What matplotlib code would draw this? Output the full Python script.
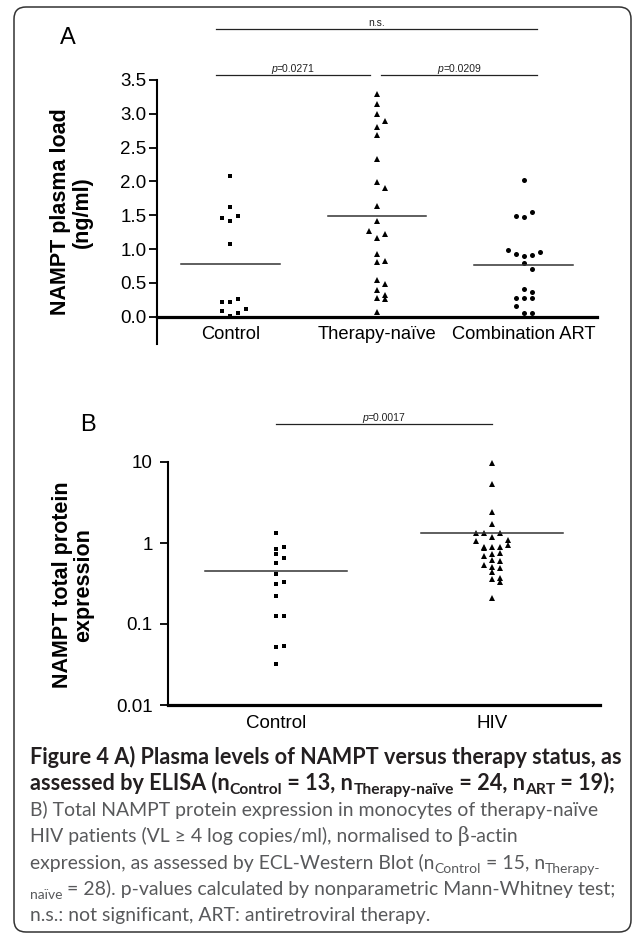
import numpy as np
import matplotlib
matplotlib.use("Agg")
import matplotlib.pyplot as plt
from matplotlib import font_manager
from matplotlib.patches import FancyBboxPatch
from matplotlib.transforms import IdentityTransform

W, H, DPI = 633, 934, 100

### panel A : NAMPT plasma load (ng/ml)
cats_a = ["Control", "Therapy-naïve", "Combination ART"]
control_a = [2.08, 1.62, 1.46, 1.41, 1.49, 1.08, 0.22, 0.21, 0.26, 0.08, 0.015, 0.05, 0.11]
naive_a = [3.29, 3.15, 2.99, 2.90, 2.81, 2.68, 2.33, 1.99, 1.91, 1.64, 1.41, 1.26, 1.16, 1.22,
           0.93, 0.81, 0.83, 0.54, 0.48, 0.40, 0.32, 0.27, 0.26, 0.065]
art_a = [2.02, 1.49, 1.47, 1.55, 0.98, 0.92, 0.89, 0.91, 0.95, 0.79, 0.71, 0.41, 0.36,
         0.27, 0.27, 0.27, 0.16, 0.06, 0.06]
yticks_a = [0.0, 0.5, 1.0, 1.5, 2.0, 2.5, 3.0, 3.5]
pvals_a = ["n.s.", "0.0271", "0.0209"]

### panel B : NAMPT total protein expression
cats_b = ["Control", "HIV"]
control_b = [1.34, 0.84, 0.90, 0.73, 0.65, 0.56, 0.42, 0.31, 0.33, 0.22, 0.124, 0.126,
             0.052, 0.053, 0.0325]
hiv_b = [9.8, 5.3, 2.39, 1.71, 1.32, 1.32, 1.17, 1.32, 1.07, 1.09, 0.90, 0.88, 0.87, 0.90,
         0.94, 0.73, 0.76, 0.69, 0.62, 0.60, 0.54, 0.50, 0.44, 0.49, 0.36, 0.33, 0.365, 0.21]
yticks_b = [0.01, 0.1, 1, 10]
yticklabels_b = ["0.01", "0.1", "1", "10"]
pval_b = "0.0017"


def has_font(name):
  try:
    font_manager.findfont(font_manager.FontProperties(family=name), fallback_to_default=False)
    return True
  except Exception:
    return False


ARIAL = "Liberation Sans"
NARROW = "Liberation Sans Narrow" if has_font("Liberation Sans Narrow") else "Liberation Sans"
CAP = ["Lato", "DejaVu Sans"]


def px_axes(fig, left, top, right, bottom):
  return fig.add_axes([left / W, 1 - bottom / H, (right - left) / W, (bottom - top) / H])


def swarm(ax, values, center, slot_px=8.0, gap_px=7.0):
  # prism-like rows: close values share a row, spread in slots
  vals = np.asarray(values, dtype=float)
  ypix = ax.transData.transform(np.column_stack([np.full(len(vals), center), vals]))[:, 1]
  order = np.argsort(-ypix)
  groups = []
  for i in order:
    if groups and groups[-1][0] - ypix[i] < gap_px:
      groups[-1][1].append(i)
    else:
      groups.append([ypix[i], [i]])
  x0 = ax.transData.transform([[center, 0]])[0, 0]
  xpix = np.zeros(len(vals))
  for _, members in groups:
    members = sorted(members)
    n = len(members)
    start = -((n - 1) // 2)
    for k, i in enumerate(members):
      xpix[i] = x0 + (start + k) * slot_px
  inv = ax.transData.inverted()
  return inv.transform(np.column_stack([xpix, ypix]))[:, 0]


def measure(fig, text, kw):
  r = fig.canvas.get_renderer()
  a = fig.text(0, 0, text + "|", transform=IdentityTransform(), **kw)
  b = fig.text(0, 0, "|", transform=IdentityTransform(), **kw)
  w = a.get_window_extent(r).width - b.get_window_extent(r).width
  a.remove()
  b.remove()
  return w


def draw_runs(fig, x, y, runs, ha="left"):
  # runs: (text, kwargs), x/y in pixels from top left, y = baseline, dy > 0 goes down
  ws = []
  for text, kw in runs:
    kw = {k: v for k, v in kw.items() if k != "dy"}
    ws.append(measure(fig, text, kw))
  if ha == "center":
    x -= sum(ws) / 2
  for (text, kw), w in zip(runs, ws):
    dy = kw.get("dy", 0)
    kw = {k: v for k, v in kw.items() if k != "dy"}
    fig.text(x, H - y - dy, text, transform=IdentityTransform(), va="baseline", **kw)
    x += w


fig = plt.figure(figsize=(W / DPI, H / DPI), dpi=DPI)
fig.canvas.get_renderer()

# frame around the figure
frame = FancyBboxPatch((14, 2), 617, H - 9, boxstyle="round,pad=0,rounding_size=12",
                       transform=IdentityTransform(), fill=False, lw=1.1, ec="#333333")
fig.patches.append(frame)

### panel A
ax = px_axes(fig, 157, 80, 597, 344)
ax.set_xlim(0.5, 3.5)
ax.set_ylim(-0.404, 3.5)
for s in ["top", "right"]:
  ax.spines[s].set_visible(False)
ax.spines["bottom"].set_position(("data", 0))
ax.spines["bottom"].set_linewidth(2.3)
ax.spines["left"].set_linewidth(1.5)
ax.set_yticks(yticks_a)
ax.set_yticklabels([f"{v:.1f}" for v in yticks_a], fontfamily=ARIAL)
ax.set_xticks([1, 2, 3])
ax.set_xticklabels(cats_a, fontfamily=ARIAL)
ax.tick_params(axis="y", length=6, width=1.3, pad=1.5, labelsize=13.5)
ax.tick_params(axis="x", length=0, pad=6.5, labelsize=13.2)

markers_a = [("s", 3.4), ("^", 4.4), ("o", 3.6)]
for i, vals in enumerate([control_a, naive_a, art_a]):
  c = i + 1
  xs = swarm(ax, vals, c)
  m, ms = markers_a[i]
  ax.plot(xs, vals, ls="none", marker=m, ms=ms, mew=0, color="black", clip_on=False)
  mean = np.mean(vals)
  ax.plot([c - 0.336, c + 0.336], [mean, mean], color="#333333", lw=1.1)

# significance bars
bars_a = [(0.9, 3.09, 4.25, pvals_a[0]), (0.9, 1.95, 3.57, pvals_a[1]), (2.03, 3.09, 3.57, pvals_a[2])]
for x0, x1, yb, lab in bars_a:
  ax.plot([x0, x1], [yb, yb], color="#222222", lw=0.9, clip_on=False)
  xc, yc = ax.transData.transform([[(x0 + x1) / 2, yb]])[0]
  if lab == "n.s.":
    runs = [(lab, dict(family=NARROW, size=7.5, color="#222222"))]
  else:
    runs = [("p", dict(family=NARROW, size=7.5, style="italic", color="#222222")),
            ("=" + lab, dict(family=NARROW, size=7.5, color="#222222"))]
  draw_runs(fig, xc, H - yc - 3, runs, ha="center")

fig.text(68 / W, 1 - 38 / H, "A", family=ARIAL, fontsize=17, ha="center", va="center")
fig.text(71 / W, 1 - 212 / H, "NAMPT plasma load\n(ng/ml)", family=ARIAL, fontsize=15.5,
         fontweight="bold", rotation=90, ha="center", va="center", linespacing=1.05)

### panel B
bx = px_axes(fig, 168, 462, 600, 705)
bx.set_yscale("log")
bx.set_xlim(0.5, 2.5)
bx.set_ylim(0.01, 10)
for s in ["top", "right"]:
  bx.spines[s].set_visible(False)
bx.spines["bottom"].set_linewidth(2.3)
bx.spines["left"].set_linewidth(1.5)
bx.set_yticks(yticks_b)
bx.set_yticklabels(yticklabels_b, fontfamily=ARIAL)
bx.yaxis.set_minor_locator(matplotlib.ticker.NullLocator())
bx.set_xticks([1, 2])
bx.set_xticklabels(cats_b, fontfamily=ARIAL)
bx.tick_params(axis="y", length=6, width=1.3, pad=5, labelsize=13.5)
bx.tick_params(axis="x", length=0, pad=7, labelsize=13.5)

markers_b = [("s", 3.4), ("^", 4.4)]
for i, vals in enumerate([control_b, hiv_b]):
  c = i + 1
  xs = swarm(bx, vals, c)
  m, ms = markers_b[i]
  bx.plot(xs, vals, ls="none", marker=m, ms=ms, mew=0, color="black", clip_on=False)
  mean = np.mean(vals)
  bx.plot([c - 0.33, c + 0.33], [mean, mean], color="#333333", lw=1.1)

bx.plot([1.0, 2.0], [29.2, 29.2], color="#222222", lw=0.9, clip_on=False)
xc, yc = bx.transData.transform([[1.5, 29.2]])[0]
draw_runs(fig, xc, H - yc - 3,
          [("p", dict(family=NARROW, size=7.5, style="italic", color="#222222")),
           ("=" + pval_b, dict(family=NARROW, size=7.5, color="#222222"))], ha="center")

fig.text(88 / W, 1 - 425 / H, "B", family=ARIAL, fontsize=17, ha="center", va="center")
fig.text(73 / W, 1 - 585 / H, "NAMPT total protein\nexpression", family=ARIAL, fontsize=15.5,
         fontweight="bold", rotation=90, ha="center", va="center", linespacing=1.05)

### caption
line1 = "Figure 4 A) Plasma levels of NAMPT versus therapy status, as"
line3 = "B) Total NAMPT protein expression in monocytes of therapy-naïve"
size_b = 10 * 592 / measure(fig, line1, dict(family=CAP, size=10, weight="bold"))
size_n = 10 * 568 / measure(fig, line3, dict(family=CAP, size=10))
dark, grey = "#231f20", "#58595b"
bold = dict(family=CAP, size=size_b, weight="bold", color=dark)
bsub = dict(family=CAP, size=size_b * 0.72, weight="bold", color=dark, dy=4)
norm = dict(family=CAP, size=size_n, color=grey)
nsub = dict(family=CAP, size=size_n * 0.72, color=grey, dy=4)
beta = dict(family=["DejaVu Serif"], size=size_n * 1.05, color=grey)

x0 = 30
base = [763.5, 789.8, 816.1, 842.4, 868.7, 895.0, 921.3]
draw_runs(fig, x0, base[0], [(line1, bold)])
draw_runs(fig, x0, base[1], [("assessed by ELISA (n", bold), ("Control", bsub), (" = 13, n", bold),
                             ("Therapy-naïve", bsub), (" = 24, n", bold), ("ART", bsub),
                             (" = 19);", bold)])
draw_runs(fig, x0, base[2], [(line3, norm)])
draw_runs(fig, x0, base[3], [("HIV patients (VL ≥ 4 log copies/ml), normalised to ", norm),
                             ("β", beta), ("-actin", norm)])
draw_runs(fig, x0, base[4], [("expression, as assessed by ECL-Western Blot (n", norm),
                             ("Control", nsub), (" = 15, n", norm), ("Therapy-", nsub)])
draw_runs(fig, x0, base[5], [("naïve", nsub),
                             (" = 28). p-values calculated by nonparametric Mann-Whitney test;", norm)])
draw_runs(fig, x0, base[6], [("n.s.: not significant, ART: antiretroviral therapy.", norm)])

fig.savefig("out.png", dpi=DPI)
